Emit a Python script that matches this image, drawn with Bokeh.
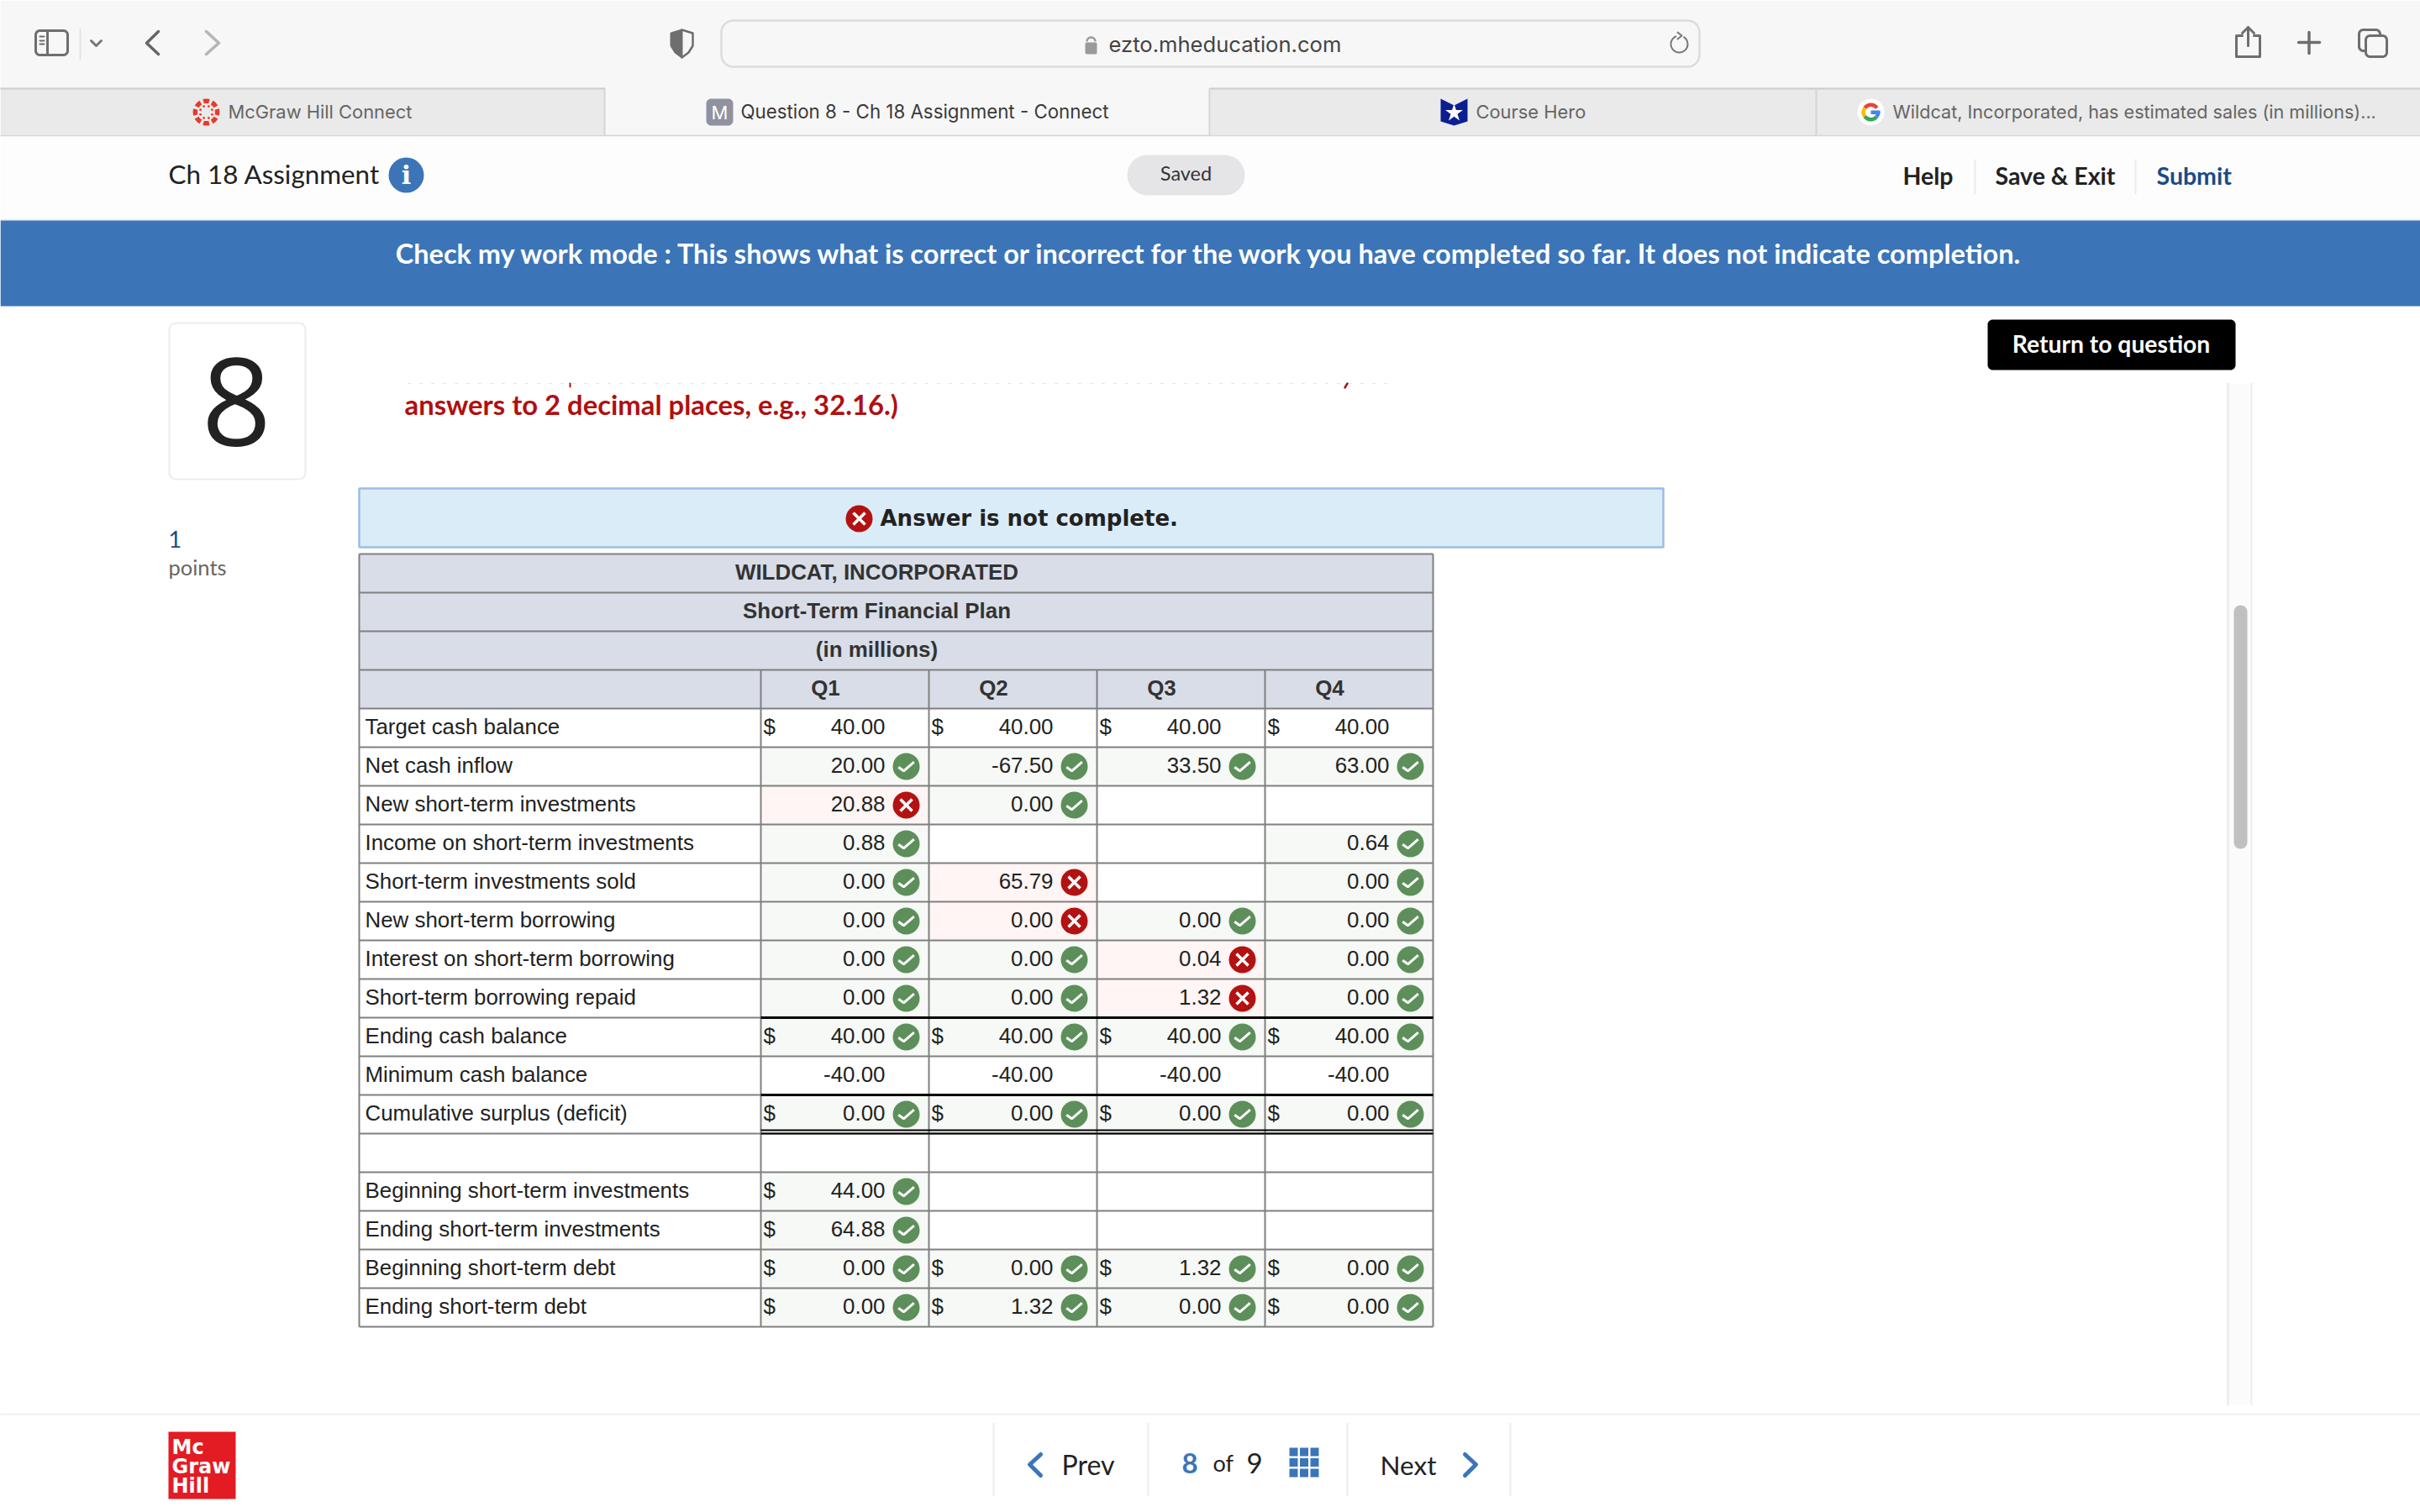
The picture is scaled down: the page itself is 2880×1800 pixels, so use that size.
import math
from bokeh.plotting import figure
from bokeh.models import Range1d
from bokeh.core.properties import value
from bokeh.embed import file_html
from bokeh.resources import INLINE

# ---------- chart content ----------
row_labels = ["Target cash balance", "Net cash inflow", "New short-term investments",
              "Income on short-term investments", "Short-term investments sold",
              "New short-term borrowing", "Interest on short-term borrowing",
              "Short-term borrowing repaid", "Ending cash balance", "Minimum cash balance",
              "Cumulative surplus (deficit)", "", "Beginning short-term investments",
              "Ending short-term investments", "Beginning short-term debt", "Ending short-term debt"]
quarters = ["Q1", "Q2", "Q3", "Q4"]
q1_values = [40.00, 20.00, 20.88, 0.88, 0.00, 0.00, 0.00, 0.00, 40.00, -40.00, 0.00, None, 44.00, 64.88, 0.00, 0.00]
q2_values = [40.00, -67.50, 0.00, None, 65.79, 0.00, 0.00, 0.00, 40.00, -40.00, 0.00, None, None, None, 0.00, 1.32]
q3_values = [40.00, 33.50, None, None, None, 0.00, 0.04, 1.32, 40.00, -40.00, 0.00, None, None, None, 1.32, 0.00]
q4_values = [40.00, 63.00, None, 0.64, 0.00, 0.00, 0.00, 0.00, 40.00, -40.00, 0.00, None, None, None, 0.00, 0.00]
q1_marks = ["", "c", "x", "c", "c", "c", "c", "c", "c", "", "c", "", "c", "c", "c", "c"]
q2_marks = ["", "c", "c", "", "x", "x", "c", "c", "c", "", "c", "", "", "", "c", "c"]
q3_marks = ["", "c", "", "", "", "c", "x", "x", "c", "", "c", "", "", "", "c", "c"]
q4_marks = ["", "c", "", "c", "c", "c", "c", "c", "c", "", "c", "", "", "", "c", "c"]
dollar_rows = [0, 8, 10, 12, 13, 14, 15]
table_titles = ["WILDCAT, INCORPORATED", "Short-Term Financial Plan", "(in millions)"]
tab_titles = ["McGraw Hill Connect", "Question 8 - Ch 18 Assignment - Connect", "Course Hero",
              "Wildcat, Incorporated, has estimated sales (in millions)..."]
banner_text = "Check my work mode : This shows what is correct or incorrect for the work you have completed so far. It does not indicate completion."

# ---------- page set-up: ranges map 1:1 onto reference pixels ----------
p = figure(x_range=Range1d(0, 2880), y_range=Range1d(1800, 0), width=2880, height=1800,
           output_backend="svg", toolbar_location=None, min_border=0,
           x_axis_location=None, y_axis_location=None, background_fill_color="white",
           border_fill_color="white", outline_line_color=None)
p.grid.visible = False

SANS = "Lato"
BOLD = "Lato"
UI = "Inter"
ARIAL = "Liberation Sans"
BLUE = "#3b75b8"
NAVY = "#1b4a86"
GREY = "#6e6e6e"

def box(l, t, r, b, fill, line=None, w=0):
    p.quad(left=l, right=r, top=t, bottom=b, fill_color=fill, line_color=line, line_width=w)

def rbox(l, t, r, b, rad, fill, line=None, w=0):
    xs, ys = [], []
    for cx, cy, a0 in [(r-rad, t+rad, -90), (r-rad, b-rad, 0), (l+rad, b-rad, 90), (l+rad, t+rad, 180)]:
        for k in range(9):
            a = math.radians(a0 + k*90/8)
            xs.append(cx + rad*math.cos(a)); ys.append(cy + rad*math.sin(a))
    p.patch(xs, ys, fill_color=fill, line_color=line, line_width=w)

def line(xs, ys, color, w=3, dash="solid"):
    p.line(xs, ys, line_color=color, line_width=w, line_cap="round", line_join="round", line_dash=dash)

def txt(x, y, s, size, color, font=SANS, bold=False, align="left"):
    p.text([x], [y], text=[s], text_font=value(font), text_font_size=f"{size}px", text_color=color,
           text_font_style="bold" if bold else "normal", text_align=align, text_baseline="middle")

# ---------- browser chrome ----------
box(0, 0, 2880, 104, "#f7f7f7")
box(0, 104, 719, 160, "#eaeaea")
box(719, 104, 1440, 160, "#f7f7f7")
box(1440, 104, 2880, 160, "#eaeaea")
line([0, 719], [105, 105], "#cccccc", 2)
line([1440, 2880], [105, 105], "#cccccc", 2)
line([0, 2880], [161, 161], "#d6d6d6", 2)
line([719, 719], [105, 160], "#d4d4d4", 2)
line([1439, 1439], [105, 160], "#d4d4d4", 2)
line([2161, 2161], [105, 160], "#d4d4d4", 2)

rbox(42, 36, 80, 65, 5, "#f7f7f7", GREY, 3)
line([56, 56], [37, 64], GREY, 3)
for yy in (43, 48, 52):
    line([47, 52], [yy, yy], GREY, 2)
line([95, 95], [34, 70], "#e3e3e3", 2)
line([108, 114, 120], [48, 54, 48], "#777777", 3)
line([188, 174, 188], [37, 50.7, 64], "#666666", 3.5)
line([245, 260, 245], [37, 50.7, 64], "#b5b5b5", 3.5)

# shield
p.patch([811, 798, 798, 803, 811, 811], [35, 39, 54, 62, 68, 35], fill_color=GREY, line_color=GREY, line_width=2)
line([811, 824, 824, 819, 811], [35, 39, 54, 62, 68], GREY, 2.5)

rbox(858, 24, 2022, 79, 14, "#f7f7f7", "#dcdcdc", 2.5)
rbox(1291, 50, 1305, 64, 2, "#9a9a9a")
p.arc(x=[1298], y=[49], radius=5, start_angle=0, end_angle=math.pi, line_color="#9a9a9a", line_width=2.5)
txt(1319, 52, "ezto.mheducation.com", 25.6, "#444444", UI)
p.arc(x=[1998], y=[52], radius=10, start_angle=math.radians(-250), end_angle=math.radians(60),
      line_color="#777777", line_width=2)
line([1996, 2001, 1996], [38, 42, 46], "#777777", 2)

# share / plus / tabs
line([2668, 2661, 2661, 2689, 2689, 2682], [42, 42, 67, 67, 42, 42], GREY, 3)
line([2675, 2675], [32, 54], GREY, 3)
line([2668, 2675, 2682], [39, 32, 39], GREY, 3)
line([2735, 2760], [50, 50], GREY, 3.5)
line([2747.5, 2747.5], [38, 63], GREY, 3.5)
rbox(2807, 35, 2832, 60, 5, "#f7f7f7", GREY, 3)
rbox(2815, 42, 2840, 67, 5, "#f7f7f7", GREY, 3)

# tab favicons and titles
seg = [i*45 for i in range(8)]
p.annular_wedge(x=[245]*8, y=[133]*8, inner_radius=10.5, outer_radius=16,
                start_angle=[math.radians(a-15) for a in seg], end_angle=[math.radians(a+15) for a in seg],
                fill_color="#e8392b", line_color=None)
p.circle(x=[245 + 7.5*math.cos(math.radians(a+22.5)) for a in seg],
         y=[133 + 7.5*math.sin(math.radians(a+22.5)) for a in seg],
         radius=1.4, fill_color="#e8392b", line_color=None)
rbox(840, 117, 872, 149, 6, "#8f93a0")
txt(856, 133, "M", 22, "white", UI, align="center")
p.patch([1714, 1730, 1746, 1746, 1730, 1714], [117, 125, 117, 144, 149, 144], fill_color="#0c1f91", line_color=None)
p.scatter([1730], [134], marker="star", size=22, fill_color="white", line_color=None)
p.circle(x=[2226], y=[133], radius=16, fill_color="white", line_color=None)
for a0, a1, c in [(35, 145, "#ea4335"), (145, 215, "#fbbc05"), (215, 320, "#34a853"), (320, 360, "#4285f4")]:
    p.annular_wedge(x=[2226], y=[133], inner_radius=6.5, outer_radius=11, start_angle=math.radians(a0),
                    end_angle=math.radians(a1), fill_color=c, line_color=None)
box(2226, 131, 2237, 135.5, "#4285f4")
for x, s, c, sz in zip([271, 881, 1756, 2252], tab_titles, ["#656565", "#3a3a3a", "#656565", "#656565"],
                       [21.9, 22.3, 21.9, 21.6]):
    txt(x, 132, s, sz, c, UI)

# ---------- page header ----------
box(0, 162, 2880, 260, "#fdfdfd")
line([0, 2880], [261, 261], "#f0f0f0", 2)
box(0, 262, 2880, 364, BLUE)
txt(200, 206.5, "Ch 18 Assignment", 31.4, "#222222")
p.circle(x=[483], y=[208], radius=21, fill_color=BLUE, line_color=None)
txt(483, 208, "i", 30, "white", "DejaVu Serif", True, "center")
rbox(1341, 184, 1481, 232, 24, "#e5e5e8")
txt(1411, 205.5, "Saved", 23.5, "#333333", align="center")
txt(2264, 208, "Help", 28.5, "#222222", BOLD, True)
line([2350, 2350], [190, 230], "#ececec", 2)
txt(2374, 208, "Save & Exit", 28.5, "#222222", BOLD, True)
line([2541, 2541], [190, 230], "#ececec", 2)
txt(2566, 208, "Submit", 28.5, NAVY, BOLD, True)
txt(1440, 301, banner_text, 32.5, "white", BOLD, True, "center")

# ---------- left column ----------
rbox(201, 384, 363, 570, 8, "white", "#ececec", 2)
txt(281, 478, "8", 145, "#222222", "Open Sans", align="center")
txt(200, 641, "1", 27, NAVY)
txt(200, 674, "points", 25.5, "#666666")

# ---------- question ----------
rbox(2365, 380, 2660, 440, 6, "black")
txt(2512, 408, "Return to question", 28.3, "white", BOLD, True, "center")
line([485, 1650], [456, 456], "#f8dcdc", 1, [3, 11])
line([678, 678], [456, 460], "#b01010", 2)
line([1603, 1600], [456, 461], "#b01010", 2.5)
txt(481, 481, "answers to 2 decimal places, e.g., 32.16.)", 32.8, "#b01010", BOLD, True)

# scrollbar
box(2651, 456, 2679, 1672, "#fbfbfb")
line([2651, 2651], [456, 1672], "#e8e8e8", 2)
line([2679, 2679], [456, 1672], "#eeeeee", 2)
rbox(2658, 720, 2674, 1010, 8, "#c0c0c0")

# answer box
box(427, 581, 1979, 651, "#dbecf9", "#9cbde3", 2.5)

# ---------- table ----------
T_LEFT, T_TOP, ROW_H = 427, 659, 46
COL_X = [905, 1105, 1305, 1505, 1705]
HEAD_ROWS = 4
TOTAL_ROWS = HEAD_ROWS + len(row_labels)
TEXT_SHIFT = -1.2
row_top = lambda k: T_TOP + k*ROW_H
CELL_SIZE = "25.9px"

box(T_LEFT, T_TOP, COL_X[-1], row_top(HEAD_ROWS), "#d8dde8")

values = [q1_values, q2_values, q3_values, q4_values]
marks = [q1_marks, q2_marks, q3_marks, q4_marks]
CELL_FILL = {"c": "#f6f9f6", "x": "#fef5f4"}
cl, cr, ct, cb, cf = [], [], [], [], []
vx, vy, vt, dx, dy = [], [], [], [], []
gx, gy, rx, ry = [], [], [], []
for c, (vals, mk) in enumerate(zip(values, marks)):
    for r, (v, m) in enumerate(zip(vals, mk)):
        top = row_top(HEAD_ROWS + r)
        mid = top + ROW_H/2
        if m:
            cl.append(COL_X[c]); cr.append(COL_X[c+1]); ct.append(top); cb.append(top+ROW_H); cf.append(CELL_FILL[m])
            (gx if m == "c" else rx).append(COL_X[c+1]-27)
            (gy if m == "c" else ry).append(mid)
        if v is not None:
            vx.append(COL_X[c+1]-52); vy.append(mid + TEXT_SHIFT); vt.append(f"{v:.2f}")
            if r in dollar_rows:
                dx.append(COL_X[c]+3); dy.append(mid + TEXT_SHIFT)
p.quad(left=cl, right=cr, top=ct, bottom=cb, fill_color=cf, line_color=None)

# grid
for k in range(TOTAL_ROWS + 1):
    y = row_top(k)
    p.line([T_LEFT, COL_X[-1]], [y, y], line_color="#808080", line_width=2)
p.line([T_LEFT, T_LEFT], [T_TOP, row_top(TOTAL_ROWS)], line_color="#808080", line_width=2)
p.line([COL_X[-1], COL_X[-1]], [T_TOP, row_top(3)], line_color="#808080", line_width=2)
for x in COL_X:
    p.line([x, x], [row_top(3), row_top(TOTAL_ROWS)], line_color="#808080", line_width=2)

# total rules
for r in (8, 10):
    y = row_top(HEAD_ROWS + r)
    p.line([COL_X[0], COL_X[-1]], [y, y], line_color="black", line_width=3)
y = row_top(HEAD_ROWS + 11)
p.line([COL_X[0], COL_X[-1]], [y-4, y-4], line_color="black", line_width=2)
p.line([COL_X[0], COL_X[-1]], [y, y], line_color="black", line_width=2)

# header text
for k, s in enumerate(table_titles):
    txt(1043, row_top(k) + ROW_H/2 + TEXT_SHIFT, s, 25.9, "#333333", ARIAL, True, "center")
for x, s in zip(COL_X, quarters):
    txt(x + 77, row_top(3) + ROW_H/2 + TEXT_SHIFT, s, 25.9, "#333333", ARIAL, True, "center")

# labels, values
ly = [row_top(HEAD_ROWS + r) + ROW_H/2 + TEXT_SHIFT for r in range(len(row_labels))]
p.text([434]*len(row_labels), ly, text=row_labels, text_font=value(ARIAL), text_font_size=CELL_SIZE,
       text_color="#222222", text_baseline="middle")
p.text(vx, vy, text=vt, text_font=value(ARIAL), text_font_size=CELL_SIZE, text_color="#222222",
       text_align="right", text_baseline="middle")
p.text(dx, dy, text=["$"]*len(dx), text_font=value(ARIAL), text_font_size=CELL_SIZE, text_color="#222222",
       text_baseline="middle")

# status icons
def check_icons(xs, ys):
    p.circle(x=xs, y=ys, radius=16, fill_color="#5d8f5a", line_color=None)
    p.multi_line([[x-9.3, x-3, x+9.3] for x in xs], [[y+0.7, y+5.3, y-5.3] for y in ys],
                 line_color="white", line_width=3)

def cross_icons(xs, ys):
    p.circle(x=xs, y=ys, radius=16, fill_color="#b31212", line_color=None)
    p.multi_line([[x-7, x+7] for x in xs] + [[x-7, x+7] for x in xs],
                 [[y-7, y+7] for y in ys] + [[y+7, y-7] for y in ys],
                 line_color="white", line_width=3.5)

check_icons(gx, gy)
cross_icons(rx + [1022], ry + [617])
txt(1047, 616, "Answer is not complete.", 26, "#222222", "DejaVu Sans", True)

# ---------- footer ----------
line([0, 2880], [1683, 1683], "#f0f0f0", 2)
box(200, 1704, 280, 1784, "#e31b23")
for yy, s in zip([1722, 1745, 1768], ["Mc", "Graw", "Hill"]):
    txt(204, yy, s, 24, "white", "DejaVu Sans", True)
for x in (1182, 1366, 1603, 1797):
    line([x, x], [1694, 1780], "#eeeeee", 2)
line([1238, 1225, 1238], [1731, 1743, 1756], BLUE, 5)
txt(1263, 1743, "Prev", 32, "#222222")
txt(1406, 1741, "8", 33, BLUE, bold=True)
txt(1443, 1741, "of", 27, "#222222")
txt(1483, 1741, "9", 33, "#222222")
gxs = [1534 + i*12.5 for i in range(3)]
gys = [1723 + i*12.5 for i in range(3)]
p.quad(left=[x for x in gxs for _ in gys], right=[x+10 for x in gxs for _ in gys],
       top=[y for _ in gxs for y in gys], bottom=[y+10 for _ in gxs for y in gys],
       fill_color=BLUE, line_color=None)
txt(1642, 1743, "Next", 31.5, "#222222")
line([1743, 1756, 1743], [1731, 1743, 1756], BLUE, 5)

open("out.html", "w").write(file_html(p, INLINE))
